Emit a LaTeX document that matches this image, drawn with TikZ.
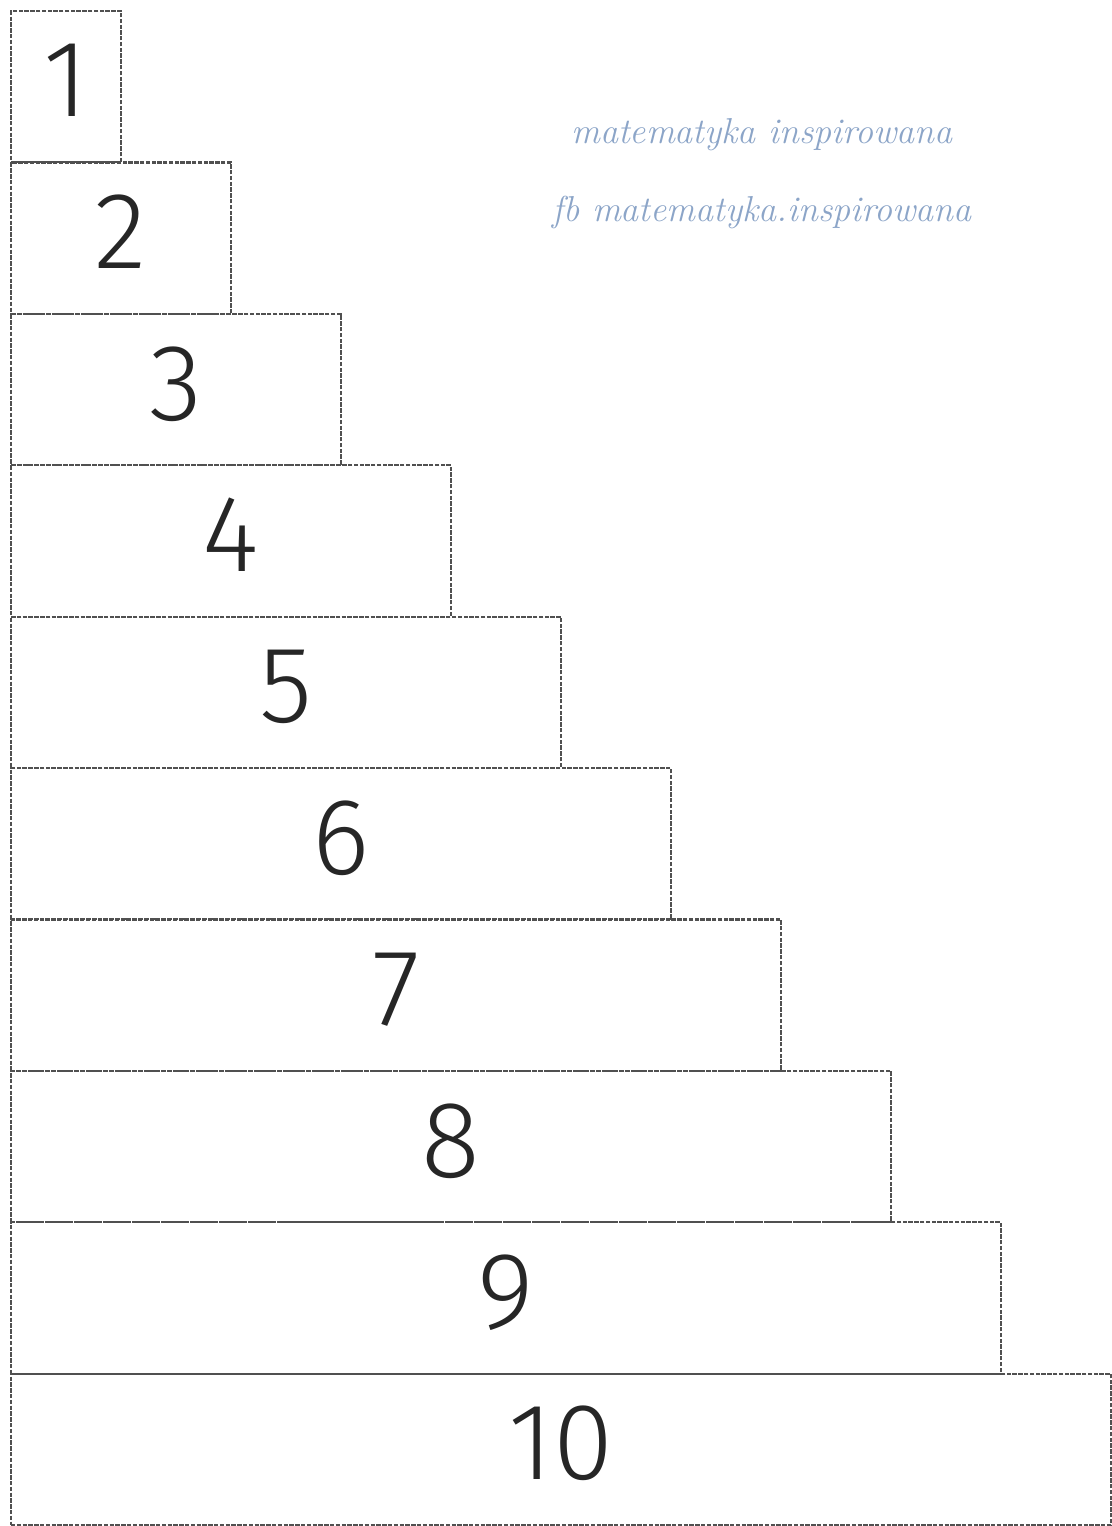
\documentclass[tikz,border=0pt]{standalone}
\usepackage{fontspec}
\setsansfont{Fira Sans}[UprightFont=* Light]
\usetikzlibrary{positioning}
\definecolor{stepline}{RGB}{80,80,80}
\definecolor{markblue}{RGB}{140,165,200}
\begin{document}
\begin{tikzpicture}[
    x=0.02cm, y=-0.02cm,
    stairbox/.style={
        rectangle,
        draw=stepline,
        line width=1.2pt,
        dash pattern=on 2.5pt off 0.8pt,
        anchor=north west,
        minimum height=3.028cm,
        inner sep=0pt,
        text depth=0.25cm,
        font=\sffamily\fontsize{62}{62}\selectfont,
        text=black!85
    },
    watermark/.style={
        font=\itshape\fontsize{20.5}{20.5}\selectfont,
        text=markblue
    },
]

\useasboundingbox (0,0) rectangle (1112,1526);

% === STAIRS ===
\foreach \i in {1,...,10} {
    \node[stairbox, minimum width=\i*2.2cm] (n\i) at (10,{10+(\i-1)*151.4}) {\i};
}

% === WATERMARK ===
\node[watermark] (wm1) at (762,135) {matematyka inspirowana};
\node[watermark, below=1.56cm of wm1.center, anchor=center] (wm2) {fb matematyka.inspirowana};

\end{tikzpicture}
\end{document}
